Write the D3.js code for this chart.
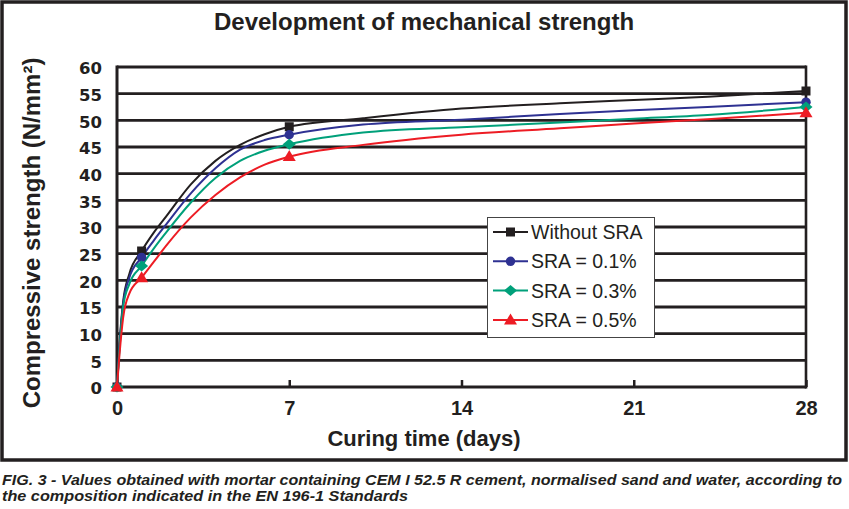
<!DOCTYPE html>
<html>
<head>
<meta charset="utf-8">
<script src="https://cdn.jsdelivr.net/npm/d3@7"></script>
<style>
  html, body { margin: 0; padding: 0; background: #fff; }
  svg { display: block; }
</style>
</head>
<body>
<svg id="chart" width="849" height="509"></svg>
<script>
// ---------- data ----------
const days = [0, 0.1, 0.25, 0.5, 1, 1.5, 2, 3, 4, 5, 6, 7, 10, 14, 18, 21, 24, 28];
const markerDays = [0, 1, 7, 28];
const seriesNames = ["Without SRA", "SRA = 0.1%", "SRA = 0.3%", "SRA = 0.5%"];
const withoutSRA = [0, 8, 16, 21.2, 25.5, 29, 32, 38, 42.4, 45.4, 47.4, 48.8, 50.4, 52.2, 53.2, 53.8, 54.4, 55.5];
const sra01      = [0, 7.5, 15.5, 20.5, 24.3, 27.5, 30.5, 36.3, 41, 44.5, 46.3, 47.3, 49.2, 50.1, 51.2, 51.9, 52.5, 53.4];
const sra03      = [0, 7, 15, 19.3, 22.7, 26, 29, 34.6, 39.2, 42.4, 44.3, 45.5, 47.7, 48.7, 49.6, 50.3, 51.0, 52.5];
const sra05      = [0, 6, 13, 17.5, 20.5, 23.5, 26.5, 31.8, 36, 39.3, 41.7, 43.2, 45.4, 47.3, 48.5, 49.4, 50.2, 51.4];
const xTicks = [0, 7, 14, 21, 28];
const yTicks = [0, 5, 10, 15, 20, 25, 30, 35, 40, 45, 50, 55, 60];
const titleText = "Development of mechanical strength";
const xTitle = "Curing time (days)";
const yTitle = "Compressive strength  (N/mm²)";
const caption1 = "FIG. 3 - Values obtained with mortar containing CEM I 52.5 R cement, normalised sand and water, according to";
const caption2 = "the composition indicated in the EN 196-1 Standards";

// ---------- styles ----------
const colors = ["#231f20", "#2e3192", "#00a07a", "#ed1c24"];
const shapes = ["square", "circle", "diamond", "triangle"];
const ink = "#231f20";

const svg = d3.select("#chart");
const x = d3.scaleLinear().domain([0, 28]).range([117, 806]);
const y = d3.scaleLinear().domain([0, 60]).range([387, 67]);

// outer frame
svg.append("rect").attr("x", 2).attr("y", 2).attr("width", 844).attr("height", 458)
  .attr("fill", "#fff").attr("stroke", ink).attr("stroke-width", 3.5);

// title
svg.append("text").attr("x", 424).attr("y", 30).attr("text-anchor", "middle")
  .style("font-family", "'Liberation Sans', Arial, sans-serif").style("font-weight", "bold")
  .style("font-size", "24px").attr("fill", ink).text(titleText);

// gridlines
svg.append("g").selectAll("line").data(yTicks.filter(v => v > 0)).join("line")
  .attr("x1", x(0)).attr("x2", x(28)).attr("y1", d => y(d)).attr("y2", d => y(d))
  .attr("stroke", ink).attr("stroke-width", 2.8);

// axes lines
svg.append("line").attr("x1", x(0)).attr("x2", x(28)).attr("y1", y(0)).attr("y2", y(0))
  .attr("stroke", ink).attr("stroke-width", 3);
svg.append("line").attr("x1", x(0)).attr("x2", x(0)).attr("y1", y(60) - 1.4).attr("y2", y(0) + 1.5)
  .attr("stroke", ink).attr("stroke-width", 3);
svg.append("line").attr("x1", x(28)).attr("x2", x(28)).attr("y1", y(60) - 1.4).attr("y2", y(0) + 1.5)
  .attr("stroke", ink).attr("stroke-width", 2.6);

// y axis labels
const yAxis = svg.append("g").attr("transform", `translate(${x(0)},0)`)
  .call(d3.axisLeft(y).tickValues(yTicks).tickSize(0).tickPadding(15));
yAxis.select(".domain").remove();
yAxis.selectAll("text").style("font-family", "'DejaVu Sans', sans-serif").style("font-weight", "bold")
  .style("font-size", "16.5px").attr("fill", ink).attr("dy", "0.42em");

// x axis (inner ticks + labels)
const xAxis = svg.append("g").attr("transform", `translate(0,${y(0)})`)
  .call(d3.axisBottom(x).tickValues(xTicks).tickSizeInner(-7).tickSizeOuter(0).tickPadding(14));
xAxis.select(".domain").remove();
xAxis.selectAll("line").attr("stroke", ink).attr("stroke-width", 2.5);
xAxis.selectAll("text").style("font-family", "'Liberation Sans Narrow', 'Arial Narrow', sans-serif")
  .style("font-weight", "bold").style("font-size", "20px").attr("fill", ink);

// axis titles
svg.append("text").attr("x", 424).attr("y", 446).attr("text-anchor", "middle")
  .style("font-family", "'Liberation Sans', Arial, sans-serif").style("font-weight", "bold")
  .style("font-size", "22px").attr("fill", ink).text(xTitle);
svg.append("text").attr("transform", "translate(40,233) rotate(-90)").attr("text-anchor", "middle")
  .style("font-family", "'Liberation Sans', Arial, sans-serif").style("font-weight", "bold")
  .style("font-size", "24px").attr("fill", ink).text(yTitle);

// marker path generator
function markerPath(shape) {
  switch (shape) {
    case "square": return "M-4.5,-4.5H4.5V4.5H-4.5Z";
    case "circle": return d3.symbol(d3.symbolCircle, 70)();
    case "diamond": return "M0,-5.5L6.5,0L0,5.5L-6.5,0Z";
    case "triangle": return "M0,-6.5L6.5,4.5L-6.5,4.5Z";
  }
}

// series
const allSeries = [withoutSRA, sra01, sra03, sra05];
const line = d3.line().x(d => x(d[0])).y(d => y(d[1])).curve(d3.curveMonotoneX);
allSeries.forEach((vals, i) => {
  const pts = days.map((d, k) => [d, vals[k]]);
  svg.append("path").datum(pts).attr("d", line).attr("fill", "none")
    .attr("stroke", colors[i]).attr("stroke-width", 2);
});
allSeries.forEach((vals, i) => {
  const pts = days.map((d, k) => [d, vals[k]]).filter(p => markerDays.includes(p[0]));
  svg.append("g").selectAll("path").data(pts).join("path")
    .attr("transform", p => `translate(${x(p[0])},${y(p[1])})`)
    .attr("d", markerPath(shapes[i])).attr("fill", colors[i]);
});

// legend
const lg = svg.append("g");
lg.append("rect").attr("x", 487.5).attr("y", 217.5).attr("width", 167).attr("height", 120)
  .attr("fill", "#fff").attr("stroke", "#444").attr("stroke-width", 1);
seriesNames.forEach((name, i) => {
  const cy = 232 + i * 29.3;
  lg.append("line").attr("x1", 493).attr("x2", 528).attr("y1", cy).attr("y2", cy)
    .attr("stroke", colors[i]).attr("stroke-width", 2);
  lg.append("path").attr("transform", `translate(510.5,${cy})`).attr("d", markerPath(shapes[i]))
    .attr("fill", colors[i]);
  lg.append("text").attr("x", 531).attr("y", cy).attr("dy", "0.36em")
    .style("font-family", "'Liberation Sans', Arial, sans-serif").style("font-size", "19.5px")
    .attr("fill", ink).text(name);
});

// caption
[[caption1, 485, 840], [caption2, 501, 406]].forEach(([t, yy, len]) => {
  svg.append("text").attr("x", 2).attr("y", yy).attr("textLength", len).attr("lengthAdjust", "spacingAndGlyphs")
    .style("font-family", "'Liberation Sans Narrow', 'Arial Narrow', sans-serif").style("font-weight", "bold")
    .style("font-style", "italic").style("font-size", "15px").attr("fill", ink).text(t);
});
</script>
</body>
</html>
